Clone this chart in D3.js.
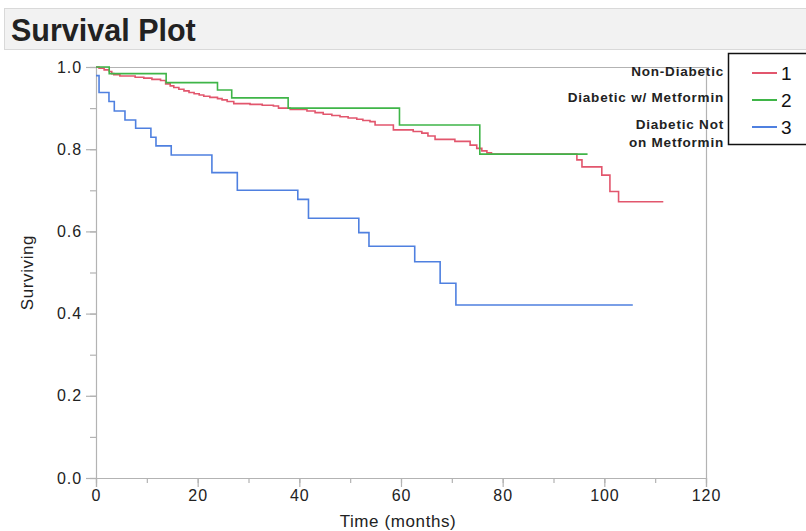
<!DOCTYPE html>
<html>
<head>
<meta charset="utf-8">
<script src="https://cdn.jsdelivr.net/npm/d3@7"></script>
<style>
  html, body { margin: 0; padding: 0; background: #ffffff; }
  svg { display: block; }
  text { font-family: "Liberation Sans", Arial, Helvetica, sans-serif; }
</style>
</head>
<body>
<svg id="chart" width="806" height="531"></svg>
<script>
// ---------- data ----------
const title = "Survival Plot";
const xLabel = "Time (months)";
const yLabel = "Surviving";
const groupNames = ["Non-Diabetic", "Diabetic w/ Metformin", "Diabetic Not\non Metformin"];
const groupKeys = ["1", "2", "3"];
const groupColors = ["#e2566d", "#3fb548", "#4f80e0"];
const xTicks = [0, 20, 40, 60, 80, 100, 120];
const yTicks = [0.0, 0.2, 0.4, 0.6, 0.8, 1.0];

// Group 1: Non-Diabetic (time in months, survival after event)
const nonDiabeticTime = [0, 0.6, 1.6, 2.6, 3.1, 3.5, 4.7, 7.7, 9.4, 11.0, 12.7, 13.7, 14.6, 15.3, 16.3, 17.3, 18.3, 19.3, 20.3, 21.2, 22.4, 23.9, 24.8, 25.8, 27.1, 30.3, 32.7, 34.9, 35.9, 38.2, 41.5, 43.1, 44.7, 46.4, 48.0, 49.6, 51.3, 52.5, 53.9, 54.9, 58.5, 62.4, 64.1, 65.3, 66.7, 70.6, 73.6, 74.9, 75.9, 76.9, 77.8, 94.6, 95.6, 99.5, 101.1, 102.8, 111.6];
const nonDiabeticSurv = [1.0, 0.997, 0.993, 0.989, 0.984, 0.981, 0.978, 0.975, 0.973, 0.970, 0.967, 0.959, 0.954, 0.950, 0.946, 0.942, 0.938, 0.935, 0.932, 0.929, 0.926, 0.923, 0.920, 0.916, 0.911, 0.909, 0.907, 0.905, 0.900, 0.897, 0.893, 0.889, 0.885, 0.882, 0.879, 0.876, 0.873, 0.870, 0.867, 0.859, 0.847, 0.843, 0.839, 0.832, 0.824, 0.819, 0.810, 0.802, 0.796, 0.791, 0.788, 0.774, 0.757, 0.737, 0.697, 0.672, 0.672];

// Group 2: Diabetic w/ Metformin
const metforminTime = [0, 2.6, 13.8, 23.9, 26.7, 37.8, 59.7, 75.5, 96.7];
const metforminSurv = [1.0, 0.984, 0.962, 0.944, 0.925, 0.900, 0.859, 0.788, 0.788];

// Group 3: Diabetic Not on Metformin
const noMetforminTime = [0, 0.6, 2.55, 3.6, 5.7, 7.8, 10.8, 11.8, 14.8, 22.8, 27.8, 39.7, 41.8, 51.7, 53.7, 62.7, 67.7, 70.8, 105.6];
const noMetforminSurv = [0.979, 0.938, 0.916, 0.893, 0.871, 0.851, 0.829, 0.808, 0.786, 0.743, 0.700, 0.678, 0.632, 0.597, 0.564, 0.526, 0.474, 0.421, 0.421];

// ---------- drawing ----------
const svg = d3.select("#chart");
const plot = { left: 96, right: 706, top: 67, bottom: 478 };

const x = d3.scaleLinear().domain([0, 120]).range([plot.left, plot.right]);
const y = d3.scaleLinear().domain([0, 1]).range([plot.bottom, plot.top]);

// title bar
svg.append("rect")
  .attr("x", 4.5).attr("y", 8.5).attr("width", 820).attr("height", 41)
  .attr("fill", "#f2f2f2").attr("stroke", "#d9d9d9").attr("stroke-width", 1);
svg.append("text")
  .attr("x", 11).attr("y", 41)
  .attr("font-size", 30.5).attr("font-weight", "bold").attr("fill", "#222")
  .text(title);

const axisColor = "#b3b3b3";

// frame (top & right)
svg.append("path")
  .attr("d", `M${plot.left},${plot.top + 0.5}H${plot.right + 0.5}V${plot.bottom}`)
  .attr("fill", "none").attr("stroke", axisColor).attr("stroke-width", 1.2);

// minor ticks
const yMinor = d3.range(0, 1.0001, 0.1);
const xMinor = d3.range(0, 120.001, 10);

svg.append("g").attr("transform", `translate(${plot.left},0)`)
  .call(d3.axisLeft(y).tickValues(yTicks).tickFormat(d3.format(".1f")).tickSize(10).tickPadding(4));
svg.append("g").attr("transform", `translate(${plot.left},0)`)
  .call(d3.axisLeft(y).tickValues(yMinor).tickFormat("").tickSize(6))
  .call(g => g.select(".domain").remove());

svg.append("g").attr("transform", `translate(0,${plot.bottom})`)
  .call(d3.axisBottom(x).tickValues(xTicks).tickSize(9).tickPadding(3));
svg.append("g").attr("transform", `translate(0,${plot.bottom})`)
  .call(d3.axisBottom(x).tickValues(xMinor).tickFormat("").tickSize(5))
  .call(g => g.select(".domain").remove());

svg.selectAll(".domain, .tick line").attr("stroke", axisColor).attr("stroke-width", 1.2);
svg.selectAll(".tick text")
  .attr("font-family", "'Liberation Sans', Arial, sans-serif")
  .attr("font-size", 16).attr("fill", "#222").attr("letter-spacing", "0.9px");

// axis labels
svg.append("text")
  .attr("x", (plot.left + plot.right) / 2 - 3).attr("y", 527)
  .attr("text-anchor", "middle").attr("font-size", 17).attr("fill", "#222")
  .attr("letter-spacing", "0.6px")
  .text(xLabel);
svg.append("text")
  .attr("transform", `translate(33,${(plot.top + plot.bottom) / 2}) rotate(-90)`)
  .attr("text-anchor", "middle").attr("font-size", 17).attr("fill", "#222")
  .attr("letter-spacing", "0.6px")
  .text(yLabel);

// curves
const series = [
  { time: nonDiabeticTime, surv: nonDiabeticSurv },
  { time: metforminTime, surv: metforminSurv },
  { time: noMetforminTime, surv: noMetforminSurv }
];
const line = d3.line()
  .x(d => x(d[0])).y(d => y(d[1]))
  .curve(d3.curveStepAfter);

[0, 1, 2].forEach(i => {
  const s = series[i];
  const pts = s.time.map((t, j) => [t, s.surv[j]]);
  svg.append("path")
    .attr("d", line(pts))
    .attr("fill", "none")
    .attr("stroke", groupColors[i])
    .attr("stroke-width", 1.6);
});

// legend labels
const labelX = 724;
const labelYs = [[76], [102], [129, 147]];
groupNames.forEach((name, i) => {
  const lines = name.split("\n");
  lines.forEach((ln, k) => {
    svg.append("text")
      .attr("x", labelX).attr("y", labelYs[i][k])
      .attr("text-anchor", "end")
      .attr("font-size", 13.5).attr("font-weight", "bold")
      .attr("letter-spacing", "0.8px").attr("fill", "#222")
      .text(ln);
  });
});

// legend box
svg.append("rect")
  .attr("x", 728.5).attr("y", 53.5).attr("width", 100).attr("height", 91)
  .attr("fill", "#fff").attr("stroke", "#111").attr("stroke-width", 1.5);
const keyYs = [73, 100, 127];
groupKeys.forEach((k, i) => {
  svg.append("line")
    .attr("x1", 752).attr("x2", 777).attr("y1", keyYs[i]).attr("y2", keyYs[i])
    .attr("stroke", groupColors[i]).attr("stroke-width", 2);
  svg.append("text")
    .attr("x", 781).attr("y", keyYs[i] + 7)
    .attr("font-size", 19).attr("fill", "#111")
    .text(k);
});
</script>
</body>
</html>
